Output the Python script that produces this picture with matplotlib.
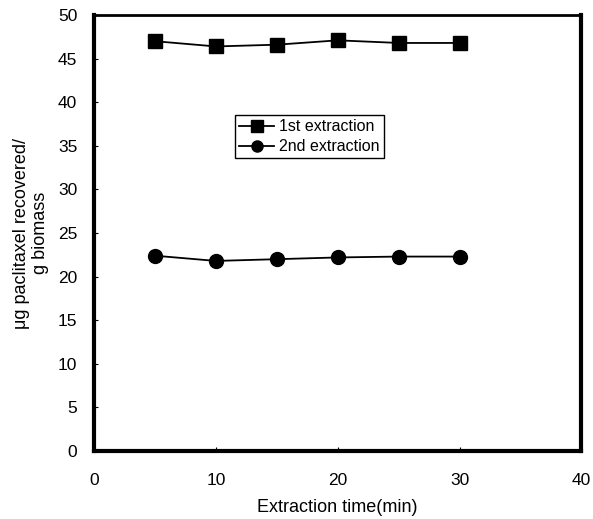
import numpy as np
import matplotlib.pyplot as plt

plt.rcParams['font.family'] = ['Liberation Sans', 'DejaVu Sans']

time_min = [5, 10, 15, 20, 25, 30]
first_extraction = [47.0, 46.4, 46.6, 47.1, 46.8, 46.8]
second_extraction = [22.4, 21.8, 22.0, 22.2, 22.3, 22.3]

fig = plt.figure(figsize=(5.93, 5.19), dpi=100)
ax = fig.add_axes([0.1585, 0.131, 0.822, 0.84])

ax.plot(time_min, first_extraction, color='black', marker='s', markersize=10,
        linewidth=1.3, label='1st extraction')
ax.plot(time_min, second_extraction, color='black', marker='o', markersize=10,
        linewidth=1.3, label='2nd extraction')

ax.set_xlim(0, 40)
ax.set_ylim(0, 50)
ax.set_xticks([0, 10, 20, 30, 40])
ax.set_yticks(range(0, 51, 5))
ax.tick_params(direction='in', length=3, width=0.8, labelsize=12.5)
ax.tick_params(axis='y', pad=12)
ax.tick_params(axis='x', pad=16)

for side in ['left', 'right', 'bottom']:
    ax.spines[side].set_linewidth(3)
ax.spines['top'].set_linewidth(2)

ax.set_xlabel('Extraction time(min)', fontsize=13, labelpad=8)
ax.set_ylabel('μg paclitaxel recovered/\ng biomass', fontsize=13, labelpad=6)

leg = ax.legend(loc='upper left', bbox_to_anchor=(0.29, 0.77), fontsize=11.5,
                frameon=True, fancybox=False, edgecolor='black', framealpha=1,
                handlelength=2.2, handletextpad=0.3, borderpad=0.25, labelspacing=0.3,
                borderaxespad=0, markerscale=0.8)
leg.get_frame().set_linewidth(1)

fig.savefig('out.png', dpi=100)
